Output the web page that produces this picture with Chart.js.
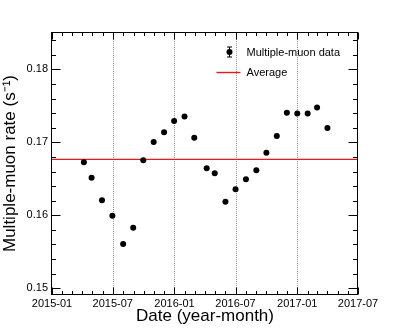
<!DOCTYPE html>
<html><head><meta charset="utf-8">
<script src="https://cdn.jsdelivr.net/npm/chart.js@4/dist/chart.umd.min.js"></script>
<style>html,body{margin:0;padding:0;background:#fff}</style>
</head><body>
<canvas id="c" width="399" height="328"></canvas>
<script>
// ---- data ----
const dates = ['2015-04-06','2015-04-29','2015-05-30','2015-06-30','2015-08-01','2015-08-31',
  '2015-09-30','2015-10-31','2015-12-01','2015-12-31','2016-01-31','2016-02-29',
  '2016-04-06','2016-04-30','2016-06-01','2016-07-01','2016-08-01','2016-09-01',
  '2016-10-01','2016-11-01','2016-12-01','2017-01-01','2017-02-01','2017-03-01','2017-04-01'];
const rates = [0.16726,0.16515,0.16205,0.15995,0.15607,0.15830,
  0.16753,0.17004,0.17137,0.17292,0.17356,0.17063,
  0.16644,0.16575,0.16186,0.16356,0.16493,0.16616,
  0.16858,0.17086,0.17405,0.17397,0.17397,0.17479,0.17196];
const rateErrors = [0.00015,0.00015,0.00015,0.00015,0.00015,0.00025,
  0.00020,0.00015,0.00015,0.00015,0.00015,0.00015,
  0.00015,0.00015,0.00015,0.00015,0.00015,0.00015,
  0.00015,0.00015,0.00015,0.00015,0.00015,0.00015,0.00015];
const averageRate = 0.16767;
const xTickLabels = ['2015-01','2015-07','2016-01','2016-07','2017-01','2017-07'];
const yTickLabels = ['0.15','0.16','0.17','0.18'];
const seriesNames = ['Multiple-muon data','Average'];
const xTitle = 'Date (year-month)';
const yTitle = 'Multiple-muon rate (s\u207B\u00B9)';
const yRange = [0.1492, 0.1850];

// ---- helpers ----
const T0 = Date.UTC(2015,0,1);
function dayOf(s){const p=s.split('-').map(Number);return (Date.UTC(p[0],p[1]-1,p[2]||1)-T0)/86400000;}
const xTickVals = xTickLabels.map(dayOf);
const yTickVals = yTickLabels.map(Number);
const FONT = "'Liberation Sans', Arial, Helvetica, sans-serif";

const rootStyle = {
  id:'rootStyle',
  beforeDatasetsDraw(chart){
    const {ctx, chartArea:a, scales:{x}} = chart;
    ctx.save();
    ctx.strokeStyle='#999'; ctx.lineWidth=1; ctx.setLineDash([1,1]);
    xTickVals.forEach(v=>{
      const px=Math.round(x.getPixelForValue(v))+0.5;
      if(px<a.left+3||px>a.right-3) return;
      ctx.beginPath(); ctx.moveTo(px,a.top); ctx.lineTo(px,a.bottom); ctx.stroke();
    });
    ctx.restore();
  },
  afterDatasetsDraw(chart){
    const {ctx, scales:{x,y}} = chart;
    ctx.save(); ctx.strokeStyle='#000'; ctx.lineWidth=1;
    dates.forEach((d,i)=>{
      const px=Math.round(x.getPixelForValue(dayOf(d)))+0.5;
      ctx.beginPath();
      ctx.moveTo(px,y.getPixelForValue(rates[i]+rateErrors[i]));
      ctx.lineTo(px,y.getPixelForValue(rates[i]-rateErrors[i]));
      ctx.stroke();
    });
    ctx.restore();
  },
  afterDraw(chart){
    const {ctx, chartArea:a, scales:{x,y}} = chart;
    ctx.save();
    ctx.strokeStyle='#000'; ctx.lineWidth=1;
    const L=Math.floor(a.left)-0.5, R=Math.floor(a.right)-0.5, T=Math.floor(a.top)-0.5, B=Math.floor(a.bottom)+0.5;
    ctx.strokeRect(L,T,R-L,B-T);
    ctx.beginPath();
    for(let k=Math.ceil(yRange[0]/0.002-1e-6);k*0.002<=yRange[1]+1e-9;k++){
      const v=k*0.002;
      const major=yTickVals.some(t=>Math.abs(t-v)<1e-7);
      const len=major?9:4.5;
      const py=Math.round(y.getPixelForValue(v))+0.5;
      ctx.moveTo(L,py); ctx.lineTo(L+len,py);
      ctx.moveTo(R,py); ctx.lineTo(R-len,py);
    }
    for(let yr=2015;yr<=2017;yr++){
      for(let m=0;m<12;m++){
        const d=(Date.UTC(yr,m,1)-T0)/86400000;
        if(d<x.min||d>x.max) continue;
        const major=(m%6===0);
        const len=major?7:3.5;
        const px=Math.round(x.getPixelForValue(d))+0.5;
        ctx.moveTo(px,B); ctx.lineTo(px,B-len);
        ctx.moveTo(px,T); ctx.lineTo(px,T+len);
      }
    }
    ctx.stroke();
    // legend
    const lx=a.left+177.5, ly=a.top+19;
    ctx.beginPath();
    ctx.moveTo(lx,ly-5); ctx.lineTo(lx,ly+5);
    ctx.moveTo(lx-2.5,ly-5); ctx.lineTo(lx+2.5,ly-5);
    ctx.moveTo(lx-2.5,ly+5); ctx.lineTo(lx+2.5,ly+5);
    ctx.stroke();
    ctx.fillStyle='#000';
    ctx.beginPath(); ctx.arc(lx,ly,3,0,Math.PI*2); ctx.fill();
    ctx.strokeStyle='#e41a1c'; ctx.lineWidth=1.4;
    ctx.beginPath(); ctx.moveTo(a.left+164.5,ly+20.5); ctx.lineTo(a.left+188.5,ly+20.5); ctx.stroke();
    ctx.font='11px '+FONT; ctx.textBaseline='middle'; ctx.textAlign='left'; ctx.fillStyle='#000';
    ctx.fillText(seriesNames[0],a.left+194.5,ly+1);
    ctx.fillText(seriesNames[1],a.left+194.5,ly+21);
    ctx.restore();
  }
};

new Chart(document.getElementById('c'),{
  type:'scatter',
  data:{datasets:[
    {label:seriesNames[0],data:dates.map((d,i)=>({x:dayOf(d),y:rates[i]})),
     pointRadius:3,pointHoverRadius:3,backgroundColor:'#000',borderWidth:0,showLine:false},
    {label:seriesNames[1],data:[{x:xTickVals[0],y:averageRate},{x:xTickVals[xTickVals.length-1],y:averageRate}],
     showLine:true,borderColor:'#e41a1c',borderWidth:1.4,pointRadius:0,fill:false}
  ]},
  options:{
    responsive:false,animation:false,devicePixelRatio:1,
    layout:{padding:{top:33,right:41,bottom:0,left:0}},
    plugins:{legend:{display:false},tooltip:{enabled:false}},
    scales:{
      x:{type:'linear',position:'bottom',min:xTickVals[0],max:xTickVals[xTickVals.length-1],
        afterBuildTicks:s=>{s.ticks=xTickVals.map(v=>({value:v}));},
        afterFit:s=>{s.height=34;},
        ticks:{autoSkip:false,maxRotation:0,minRotation:0,padding:3.3,color:'#000',
          font:{family:FONT,size:11,lineHeight:1.2},
          callback:(v,i)=>xTickLabels[i]},
        grid:{display:false,drawTicks:false},border:{display:false},
        title:{display:true,text:xTitle,color:'#000',font:{family:FONT,size:17,lineHeight:1.2},padding:{top:0,bottom:1.5}}
      },
      y:{type:'linear',position:'left',min:yRange[0],max:yRange[1],
        afterBuildTicks:s=>{s.ticks=yTickVals.map(v=>({value:v}));},
        afterFit:s=>{s.width=52;},
        ticks:{autoSkip:false,padding:4,color:'#000',
          font:{family:FONT,size:11,lineHeight:1.2},
          callback:(v,i)=>yTickLabels[i]},
        grid:{display:false,drawTicks:false},border:{display:false},
        title:{display:true,text:yTitle,color:'#000',font:{family:FONT,size:17,lineHeight:1.2},padding:{top:0,bottom:0}}
      }
    }
  },
  plugins:[rootStyle]
});
</script>
</body></html>
